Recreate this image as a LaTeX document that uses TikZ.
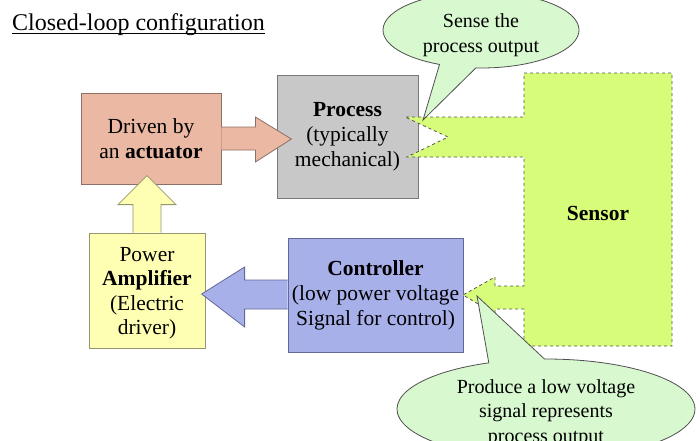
\documentclass[tikz,border=0pt]{standalone}
\usepackage{fontspec}
\setmainfont{LiberationSerif}[Extension=.ttf, UprightFont=*-Regular, BoldFont=*-Bold, ItalicFont=*-Italic, BoldItalicFont=*-BoldItalic]
\usetikzlibrary{shapes.callouts}
\definecolor{actfill}{RGB}{235,184,163}
\definecolor{actline}{RGB}{140,112,102}
\definecolor{procfill}{RGB}{200,200,200}
\definecolor{procline}{RGB}{120,120,120}
\definecolor{ampfill}{RGB}{255,255,180}
\definecolor{ampline}{RGB}{150,150,110}
\definecolor{ctrlfill}{RGB}{168,176,234}
\definecolor{ctrlline}{RGB}{100,104,150}
\definecolor{sensfill}{RGB}{215,252,122}
\definecolor{sensline}{RGB}{85,85,85}
\definecolor{callfill}{RGB}{216,248,208}
\definecolor{callline}{RGB}{80,80,80}
\begin{document}
\begin{tikzpicture}[x=1pt,y=-1pt,
  font=\rmfamily\fontsize{21.5}{25}\selectfont,
  blockbox/.style={rectangle, line width=0.8pt, align=center, inner sep=1pt},
  blockarrow/.style={line width=0.8pt, line join=miter},
  bubble/.style={ellipse callout, fill=callfill, draw=callline, line width=0.8pt,
    inner sep=0pt, callout pointer arc=22},
  bubbletext/.style={align=center, inner sep=0pt, font=\rmfamily\fontsize{20}{24.5}\selectfont}]
\useasboundingbox (0,0) rectangle (700,440);
\clip (0,0) rectangle (700,440);

% title
\node[anchor=base west, inner sep=0pt, font=\rmfamily\fontsize{24}{28}\selectfont] (title) at (12,30) {Closed-loop configuration};
\draw[line width=0.9pt] ([yshift=-3.5pt]title.base west) -- ([yshift=-3.5pt]title.base east);

% boxes
\node[blockbox, fill=actfill, draw=actline, minimum width=140pt, minimum height=91pt] (act) at (151,138.5) {Driven by\\an \textbf{actuator}};
\node[blockbox, fill=procfill, draw=procline, minimum width=141pt, minimum height=123pt] (proc) at (347.5,136.5) {\textbf{Process}\\(typically\\mechanical)};
\node[blockbox, fill=ampfill, draw=ampline, minimum width=116pt, minimum height=115pt] (amp) at (147,290.5) {};
\node[align=center, inner sep=0pt, font=\rmfamily\fontsize{21.5}{24.5}\selectfont] (ampt) at (147,293) {Power\\\textbf{Amplifier}\\(Electric\\driver)};
\node[blockbox, fill=ctrlfill, draw=ctrlline, minimum width=175pt, minimum height=114pt] (ctrl) at (375.5,295) {\textbf{Controller}\\(low power voltage\\Signal for control)};

% block arrows
\draw[blockarrow, fill=actfill, draw=actline] ([yshift=11.5pt]act.east) -- ++(34,0) -- ++(0,-10) -- ++(36,22) -- ++(-36,23) -- ++(0,-12) -- ++(-34,0);
\draw[blockarrow, fill=ampfill, draw=ampline] ([xshift=-14pt]amp.north) -- ++(0,-28) -- ++(-15,0) -- ++(29,-29) -- ++(29,29) -- ++(-15,0) -- ++(0,28);
\draw[blockarrow, fill=ctrlfill, draw=ctrlline] ([yshift=15pt]ctrl.west) -- ++(-43,0) -- ++(0,-13) -- ++(-43,27) -- ++(43,33) -- ++(0,-18) -- ++(43,0);

% sensor shape
\draw[fill=sensfill, draw=sensline, line width=0.8pt, dashed]
  (524,73) -- (672,73) -- (672,346) -- (524,346) -- (524,309) -- (495,309) -- (495,314)
  -- (463,295) -- (495,277) -- (495,286) -- (524,286) -- (524,157) -- (407,157)
  -- (448,137) -- (405,117) -- (524,117) -- cycle;
\node[font=\rmfamily\fontsize{21.5}{25}\selectfont\bfseries] (sens) at (598,213) {Sensor};

% callouts
\node[bubble, minimum width=196pt, minimum height=76pt, callout absolute pointer={(423,120)}] (c1) at (481,30) {};
\node[bubbletext] (c1t) at (481,35) {Sense the\\process output};
\node[bubble, minimum width=298pt, minimum height=100pt, callout absolute pointer={(477,296)}] (c2) at (546,409) {};
\node[bubbletext] (c2t) at (546,413) {Produce a low voltage\\signal represents\\process output};
\end{tikzpicture}
\end{document}
